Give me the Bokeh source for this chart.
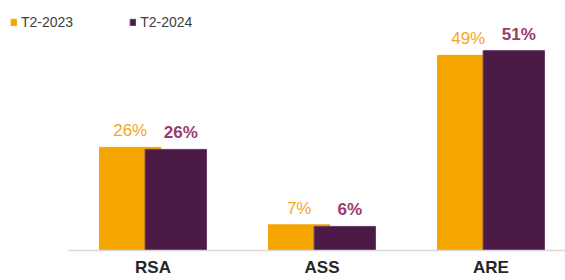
from bokeh.plotting import figure
from bokeh.models import ColumnDataSource, FixedTicker, Legend, LegendItem
from bokeh.transform import dodge
from bokeh.core.properties import value
from bokeh.embed import file_html
from bokeh.resources import INLINE

categories = ["RSA", "ASS", "ARE"]
series_names = ["T2-2023", "T2-2024"]
values_2023 = [26.1, 6.5, 49.4]
values_2024 = [25.6, 6.1, 50.6]
labels_2023 = ["26%", "7%", "49%"]
labels_2024 = ["26%", "6%", "51%"]

ORANGE = "#F5A500"
PURPLE = "#4B1A47"
ORANGE_TXT = "#F5A623"
PURPLE_TXT = "#9B3A6E"
FONT = "Liberation Sans"

xs = list(range(len(categories)))
src1 = ColumnDataSource(dict(x=xs, top=values_2023, lab=labels_2023))
src2 = ColumnDataSource(dict(x=xs, top=values_2024, lab=labels_2024))

W, H = 565, 280
px_per_unit = 169.0
x_start = -152.5 / px_per_unit
x_end = x_start + W / px_per_unit
frame_h = 250
y_end = frame_h / 3.95

p = figure(width=W, height=H, output_backend="svg", toolbar_location=None,
           x_range=(x_start, x_end), y_range=(0, y_end),
           min_border_left=0, min_border_right=0, min_border_top=0,
           min_border_bottom=H - frame_h)
p.outline_line_color = None
p.grid.visible = False
p.yaxis.visible = False
p.background_fill_color = "white"
p.border_fill_color = "white"

bw = 0.363
off = 0.135
r1 = p.vbar(x=dodge("x", -off, range=p.x_range), top="top", width=bw, bottom=0,
            source=src1, fill_color=ORANGE, line_color=ORANGE)
r2 = p.vbar(x=dodge("x", off, range=p.x_range), top="top", width=bw, bottom=0,
            source=src2, fill_color=PURPLE, line_color="#6a3a64")

p.text(x=dodge("x", -off, range=p.x_range), y="top", text="lab", source=src1,
       text_align="center", text_baseline="bottom", y_offset=-7,
       text_font=value(FONT), text_font_size="17px", text_color=ORANGE_TXT)
p.text(x=dodge("x", off, range=p.x_range), y="top", text="lab", source=src2,
       text_align="center", text_baseline="bottom", y_offset=-7, x_offset=5,
       text_font=value(FONT), text_font_size="17px", text_font_style="bold",
       text_color=PURPLE_TXT)

xa = p.xaxis[0]
xa.ticker = FixedTicker(ticks=xs)
xa.major_label_overrides = {i: c for i, c in enumerate(categories)}
xa.bounds = (-0.5, x_end)
xa.axis_line_color = "#D9D9D9"
xa.axis_line_width = 1.5
xa.major_tick_line_color = None
xa.minor_tick_line_color = None
xa.major_tick_out = 0
xa.major_tick_in = 0
xa.major_label_standoff = 7
xa.major_label_text_font = FONT
xa.major_label_text_font_size = "17px"
xa.major_label_text_font_style = "bold"
xa.major_label_text_color = "#262626"

legend = Legend(items=[LegendItem(label=series_names[0], renderers=[r1]),
                       LegendItem(label=series_names[1], renderers=[r2])],
                location="top_left", orientation="horizontal")
legend.border_line_color = None
legend.background_fill_alpha = 0
legend.padding = 0
legend.margin = 10
legend.spacing = 56
legend.glyph_width = 7
legend.glyph_height = 8
legend.label_standoff = 4
legend.label_height = 23
legend.label_text_font = FONT
legend.label_text_font_size = "14px"
legend.label_text_color = "#404040"
p.add_layout(legend)

open("out.html", "w").write(file_html(p, INLINE))
